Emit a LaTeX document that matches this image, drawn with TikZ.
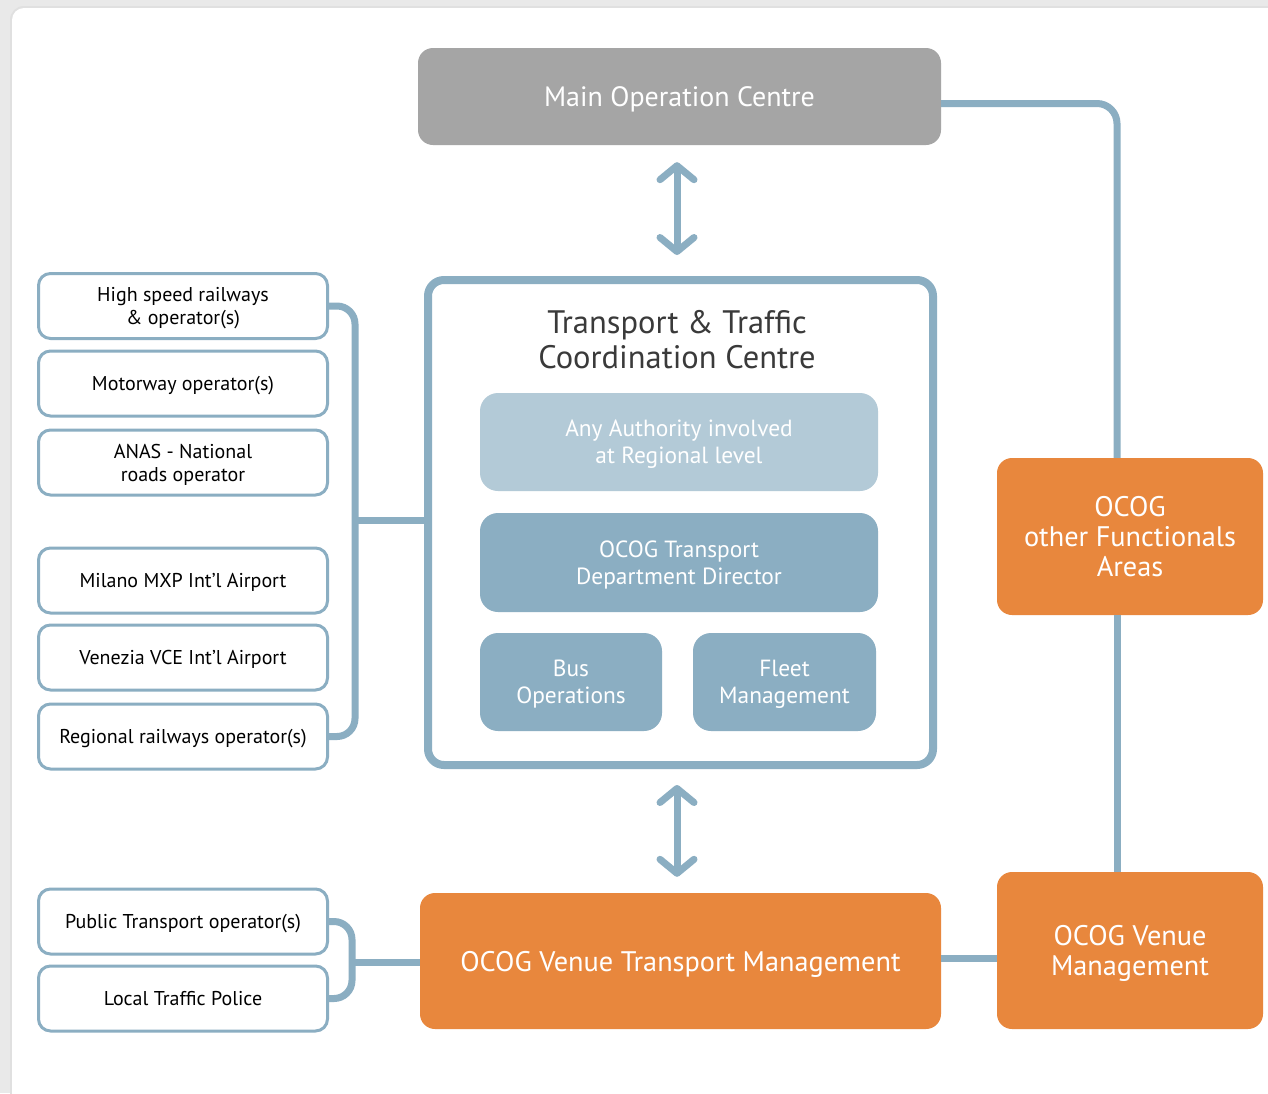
\documentclass[tikz,border=0pt]{standalone}
\usepackage{fontspec}
\setmainfont{PT Sans}
\usetikzlibrary{arrows.meta}
\definecolor{linkblue}{HTML}{8BAEC2}
\definecolor{paleblue}{HTML}{B3CAD7}
\definecolor{mocgrey}{HTML}{A5A5A5}
\definecolor{ocog}{HTML}{E8873D}
\definecolor{titlegrey}{HTML}{3A3A3A}
\definecolor{pagegrey}{HTML}{E9E9E9}
\tikzset{
  every node/.style={text depth=0pt},
  extbox/.style={draw=linkblue, line width=3pt, fill=white, rounded corners=12pt,
    minimum width=289pt, minimum height=65pt, align=center,
    font=\fontsize{20}{23}\selectfont},
  innerbox/.style={fill=#1, rounded corners=18pt, text=white, align=center,
    font=\fontsize{23.4}{27}\selectfont},
  ocogbox/.style={fill=ocog, rounded corners=15pt, text=white, align=center,
    font=\fontsize{28.3}{30}\selectfont},
  link/.style={draw=linkblue, line width=7pt},
  biarrow/.style={link, line cap=round,
    {Straight Barb[length=14pt, width=34pt, round]}-{Straight Barb[length=14pt, width=34pt, round]}}
}
\begin{document}
\begin{tikzpicture}[x=1pt, y=-1pt]
  \useasboundingbox (0,0) rectangle (1268,1093);
  \fill[pagegrey] (0,0) rectangle (1268,1093);
  \fill[black!12, rounded corners=14pt] (10,6) rectangle (1300,1130);
  \fill[white, rounded corners=12pt] (12,8) rectangle (1300,1130);

  \draw
    (679.5,96.5) node[fill=mocgrey, rounded corners=15pt, text=white,
      minimum width=523pt, minimum height=97pt,
      font=\fontsize{28}{30}\selectfont] (moc) {Main Operation Centre}
    (680.5,522.5) node[draw=linkblue, line width=8pt, fill=white, rounded corners=16pt,
      minimum width=505pt, minimum height=485pt] (ttcc) {}
    (677,339) node[text=titlegrey, align=center,
      font=\fontsize{32.5}{35}\selectfont] (title) {Transport \& Traffic\\Coordination Centre}
    (679,442) node[innerbox=paleblue, minimum width=398pt, minimum height=98pt] (auth)
      {Any Authority involved\\at Regional level}
    (679,562.5) node[innerbox=linkblue, minimum width=398pt, minimum height=99pt] (dir)
      {OCOG Transport\\Department Director}
    (571,682) node[innerbox=linkblue, minimum width=182pt, minimum height=98pt] (bus)
      {Bus\\Operations}
    (784.5,682) node[innerbox=linkblue, minimum width=183pt, minimum height=98pt] (fleet)
      {Fleet\\Management}
    (680.5,961) node[ocogbox, minimum width=521pt, minimum height=136pt] (vtm)
      {OCOG Venue Transport Management}
    (1130,536.5) node[ocogbox, minimum width=266pt, minimum height=157pt] (ofa)
      {OCOG\\other Functionals\\Areas}
    (1130,950.5) node[ocogbox, minimum width=266pt, minimum height=157pt] (ovm)
      {OCOG Venue\\Management};

  \draw
    (183,306) node[extbox] (hsr) {High speed railways\\\& operator(s)}
    (183,383.5) node[extbox] (mwy) {Motorway operator(s)}
    (183,462.5) node[extbox] (anas) {ANAS - National\\roads operator}
    (183,580.5) node[extbox] (mxp) {Milano MXP Int’l Airport}
    (183,657.5) node[extbox] (vce) {Venezia VCE Int’l Airport}
    (183,736.5) node[extbox] (reg) {Regional railways operator(s)}
    (183,921.5) node[extbox] (pto) {Public Transport operator(s)}
    (183,998.5) node[extbox] (ltp) {Local Traffic Police};

  \coordinate (lbrace) at (355,520);
  \coordinate (bbrace) at (352,962);

  \begin{scope}[link]
    \draw[rounded corners=18pt] (hsr.east) -| (lbrace) |- (reg.east);
    \draw (lbrace) -- (lbrace -| ttcc.west);
    \draw[rounded corners=18pt] (pto.east) -| (bbrace) |- (ltp.east);
    \draw (bbrace) -- (bbrace -| vtm.west);
    \draw[rounded corners=20pt] ([yshift=-7pt]moc.east) -| ([xshift=-13pt]ofa.north);
    \draw ([xshift=-13pt]ofa.south) -- ([xshift=-13pt]ovm.north);
    \draw ([yshift=3pt]vtm.east) -- ([yshift=3pt]vtm.east -| ovm.west);
  \end{scope}

  \draw[biarrow, shorten <=17pt, shorten >=21pt] ([xshift=-2.5pt]moc.south) -- ([xshift=-2.5pt]moc.south |- ttcc.north);
  \draw[biarrow, shorten <=16pt, shorten >=16pt] ([xshift=-3.5pt]ttcc.south) -- ([xshift=-3.5pt]ttcc.south |- vtm.north);
\end{tikzpicture}
\end{document}
